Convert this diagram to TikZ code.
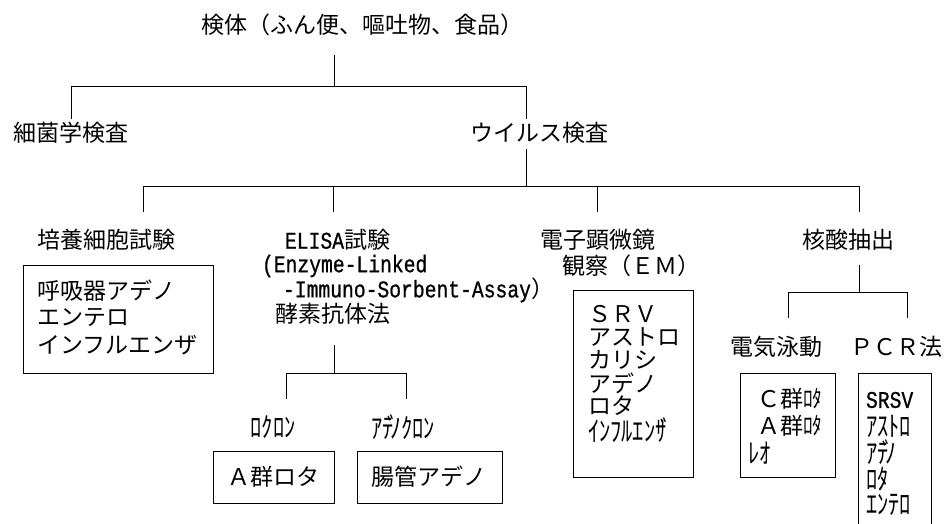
\documentclass[tikz,border=0pt]{standalone}
\usepackage{fontspec}
\setmainfont{Noto Sans CJK JP}
\newfontfamily\jpf{Noto Sans CJK JP}
\newfontfamily\hwf[FakeStretch=0.8]{Noto Sans CJK JP}
\newfontfamily\monof[FakeStretch=0.82,FakeBold=0.8]{Liberation Mono}
\newcommand\dkt{\kern-.22em ﾞ\kern-.3em}
\begin{document}
\begin{tikzpicture}[x=1pt,y=-1pt,
  every node/.style={inner sep=0pt,outer sep=0pt},
  lbl/.style={font=\jpf\fontsize{23}{27}\selectfont},
  sml/.style={font=\hwf\fontsize{28}{30}\selectfont},
  lat/.style={font=\monof\fontsize{24}{27}\selectfont},
  bx/.style={draw,line width=1pt,anchor=north west},
  ln/.style={line width=1pt}]
\useasboundingbox (0,0) rectangle (945,524);
\fill[white] (0,0) rectangle (945,524);

% ---- level 1
\node[lbl] (root) at (362,25) {検体（ふん便、嘔吐物、食品）};
\coordinate (t1) at (334,55);
\coordinate (t2) at (334,87);
\coordinate (h1l) at (71,87);
\coordinate (h1r) at (526,87);
\coordinate (d1l) at (71,119);
\coordinate (d1r) at (526,119);
\draw[ln] (t1) -- (t2);
\draw[ln] (d1l) -- (h1l) -- (h1r) -- (d1r);

\node[lbl,anchor=west] (bact) at (13,133) {細菌学検査};
\node[lbl] (virus) at (539,133) {ウイルス検査};

% ---- level 2
\coordinate (v2a) at (526,149);
\coordinate (v2b) at (526,186);
\draw[ln] (v2a) -- (v2b);
\coordinate (h2l) at (143,186);
\coordinate (h2r) at (859,186);
\coordinate (c1) at (143,212);
\coordinate (c4) at (859,212);
\coordinate (c2t) at (333,186);
\coordinate (c2) at (333,212);
\coordinate (c3t) at (597,186);
\coordinate (c3) at (597,212);
\draw[ln] (c1) -- (h2l) -- (h2r) -- (c4);
\draw[ln] (c2t) -- (c2);
\draw[ln] (c3t) -- (c3);

% ---- culture
\node[lbl,anchor=west] (culture) at (37,240) {培養細胞試験};
\node[bx,minimum width=190pt,minimum height=108pt] (box1) at (23,265) {};
\node[lbl,anchor=west] (b1a) at (37,291) {呼吸器アデノ};
\node[lbl,anchor=west] (b1b) at (37,318) {エンテロ};
\node[lbl,anchor=west] (b1c) at (37,345) {インフルエンザ};

% ---- ELISA
\node[anchor=west] (elisa) at (285,240) {{\monof\fontsize{24}{27}\selectfont ELISA}{\jpf\fontsize{23}{27}\selectfont 試験}};
\node[lat,anchor=west] (enz1) at (262,266) {(Enzyme-Linked};
\node[anchor=west] (enz2) at (283,290) {{\monof\fontsize{24}{27}\selectfont -Immuno-Sorbent-Assay}{\jpf\fontsize{23}{27}\selectfont ）}};
\node[lbl,anchor=west] (enzj) at (275,314) {酵素抗体法};

\coordinate (e1) at (334,345);
\coordinate (e2) at (334,373);
\coordinate (e3l) at (286,373);
\coordinate (e3r) at (406,373);
\coordinate (e4l) at (286,399);
\coordinate (e4r) at (406,399);
\draw[ln] (e1) -- (e2);
\draw[ln] (e4l) -- (e3l) -- (e3r) -- (e4r);
\node[sml] (rocl) at (273,427) {ﾛｸﾛﾝ};
\node[sml] (adcl) at (403,427) {ｱﾃ\dkt ﾉｸﾛﾝ};
\node[bx,minimum width=121pt,minimum height=52pt] (boxA) at (213,451) {};
\node[lbl] (boxAt) at (273.5,477) {Ａ群ロタ};
\node[bx,minimum width=145pt,minimum height=52pt] (boxB) at (357,451) {};
\node[lbl,anchor=west] (boxBt) at (371,477) {腸管アデノ};

% ---- EM
\node[lbl,anchor=west] (em1) at (540,240) {電子顕微鏡};
\node[lbl,anchor=west] (em2) at (562,266) {観察（ＥＭ）};
\node[bx,minimum width=120pt,minimum height=187pt] (boxEM) at (573,290) {};
\node[lbl,anchor=west] (ema) at (588,314) {ＳＲＶ};
\node[lbl,anchor=west] (emb) at (588,337) {アストロ};
\node[lbl,anchor=west] (emc) at (588,360) {カリシ};
\node[lbl,anchor=west] (emd) at (588,383) {アデノ};
\node[lbl,anchor=west] (eme) at (588,406) {ロタ};
\node[sml,anchor=west] (emf) at (588,430) {ｲﾝﾌﾙｴﾝｻ\dkt};

% ---- nucleic acid
\node[lbl,anchor=west] (nuc) at (802,240) {核酸抽出};
\coordinate (n1) at (859,265);
\coordinate (n2) at (859,292);
\coordinate (n3l) at (788,292);
\coordinate (n3r) at (907,292);
\coordinate (n4l) at (788,318);
\coordinate (n4r) at (907,318);
\draw[ln] (n1) -- (n2);
\draw[ln] (n4l) -- (n3l) -- (n3r) -- (n4r);
\node[lbl,anchor=west] (elec) at (730,347) {電気泳動};
\node[lbl,anchor=west] (pcr) at (850,347) {ＰＣＲ法};

\node[bx,minimum width=95pt,minimum height=104pt] (boxE) at (740,373) {};
\node[anchor=west] (ea) at (757,399) {{\jpf\fontsize{23}{27}\selectfont Ｃ群}{\hwf\fontsize{24}{27}\selectfont ﾛﾀ}};
\node[anchor=west] (eb) at (757,426) {{\jpf\fontsize{23}{27}\selectfont Ａ群}{\hwf\fontsize{24}{27}\selectfont ﾛﾀ}};
\node[sml,anchor=west] (ec) at (748,453) {ﾚｵ};

\coordinate (p1) at (858,530);
\coordinate (p2) at (858,373);
\coordinate (p3) at (931,373);
\coordinate (p4) at (931,530);
\draw[ln] (p1) -- (p2) -- (p3) -- (p4);
\node[lat,anchor=west] (pa) at (866,400) {SRSV};
\node[sml,anchor=west] (pb) at (866,426) {ｱｽﾄﾛ};
\node[sml,anchor=west] (pc) at (866,452) {ｱﾃ\dkt ﾉ};
\node[sml,anchor=west] (pd) at (866,479) {ﾛﾀ};
\node[sml,anchor=west] (pe) at (866,505) {ｴﾝﾃﾛ};
\end{tikzpicture}
\end{document}
